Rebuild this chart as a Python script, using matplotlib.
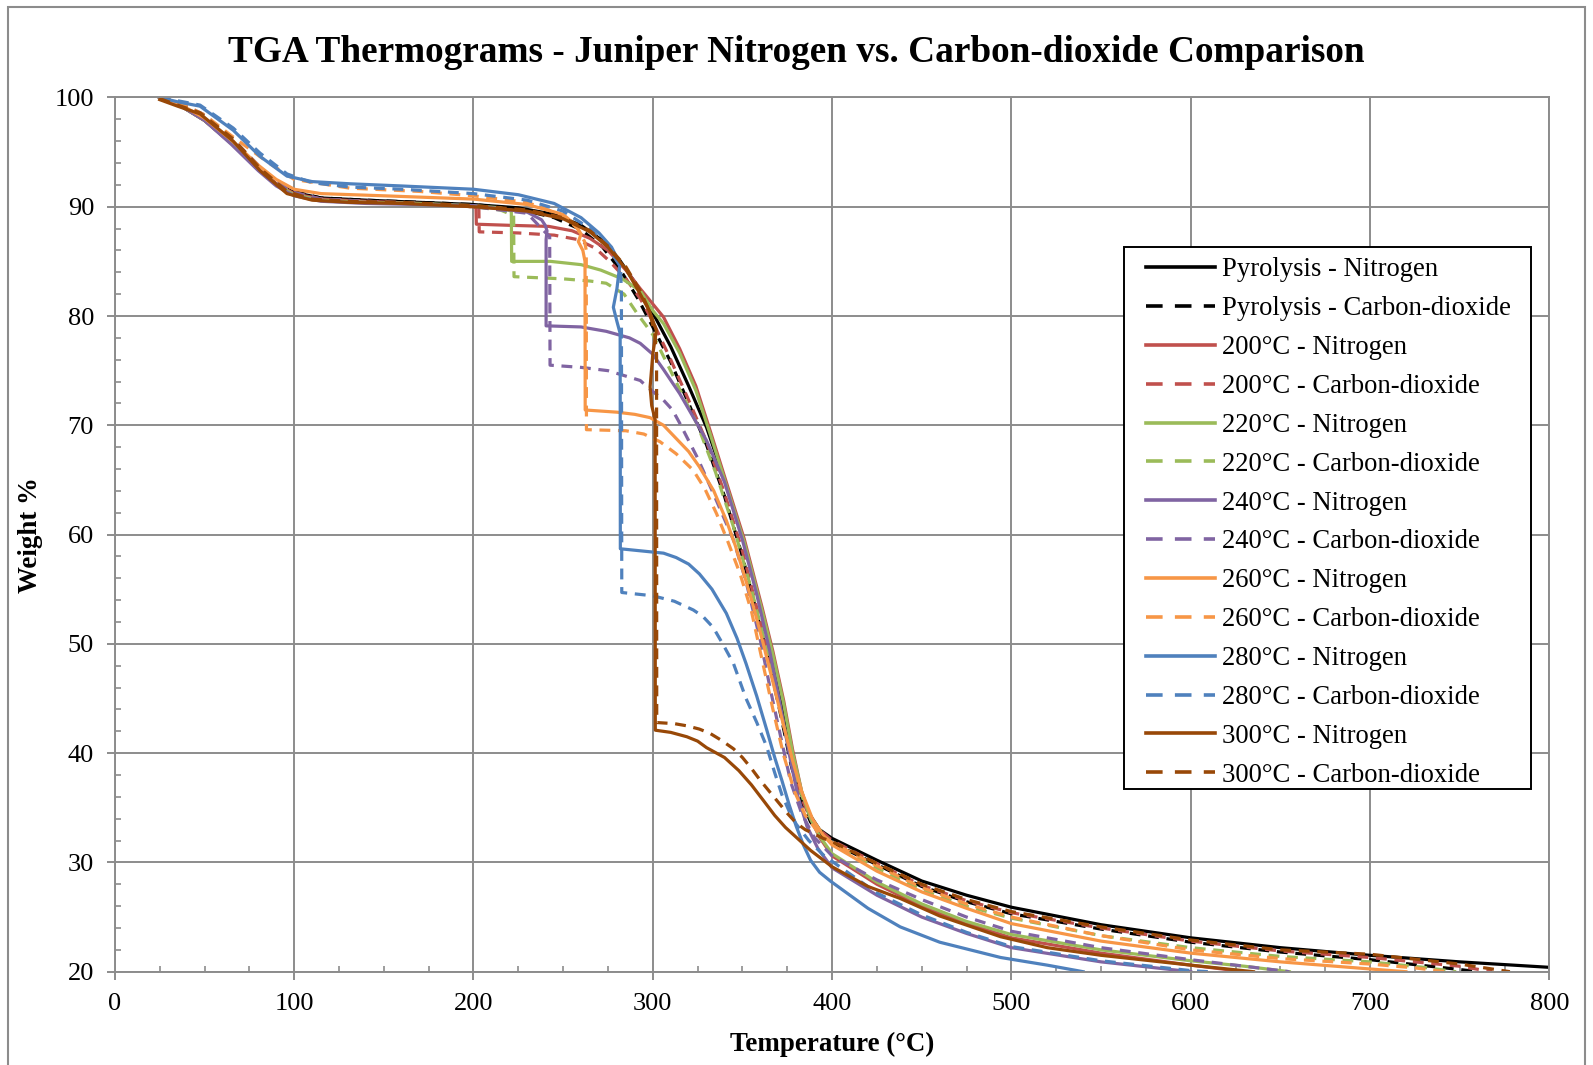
import matplotlib
matplotlib.use("Agg")
import matplotlib.pyplot as plt
from matplotlib.lines import Line2D
from matplotlib.patches import Rectangle
from matplotlib.ticker import MultipleLocator

# fonts: Times-like serif
plt.rcParams['font.family'] = ['Liberation Serif', 'DejaVu Serif']

# ---- data (temperature in C, weight %) ----
t_pyro_n2 = [25, 35, 50, 65, 80, 90, 100, 115, 140, 170, 200, 225, 245, 260, 272, 282, 292, 300, 310, 320, 330, 340,
             350, 360, 366, 372, 377, 382, 387, 393, 400, 425, 450, 475, 500, 550, 600, 650, 700, 750, 800]
w_pyro_n2 = [100, 99.4, 97.9, 95.8, 93.4, 92.1, 91.3, 90.8, 90.6, 90.4, 90.2, 89.9, 89.3, 88.3, 86.9, 85.0, 82.6, 80.3,
             77.2, 73.6, 69.8, 65.0, 59.8, 53.5, 49.5, 44.5, 40.0, 36.6, 34.5, 33.0, 32.2, 30.2, 28.3, 27.0, 25.9, 24.3,
             23.1, 22.2, 21.5, 20.9, 20.4]

t_pyro_co2 = [25, 35, 50, 65, 80, 90, 100, 115, 140, 170, 200, 225, 245, 260, 272, 282, 292, 300, 310, 320, 330, 340,
              350, 360, 366, 372, 377, 382, 388, 394, 400, 425, 450, 475, 500, 550, 600, 650, 700, 750, 760]
w_pyro_co2 = [100, 99.5, 98.1, 96.0, 93.6, 92.2, 91.4, 90.8, 90.6, 90.4, 90.2, 89.8, 89.0, 87.9, 86.3, 84.2, 81.5, 79.0,
              75.8, 72.0, 68.2, 63.5, 58.0, 51.5, 47.5, 43.0, 39.0, 36.0, 33.7, 32.5, 31.8, 29.8, 27.8, 26.4, 25.3, 23.9,
              22.7, 21.8, 21.1, 20.2, 20.0]

t_200_n2 = [25, 35, 50, 65, 80, 90, 100, 115, 140, 170, 200, 201.4, 201.6, 220, 242, 255, 265, 275, 285, 293, 300, 306,
            315, 324, 332, 341, 351, 361, 367, 373, 378, 383, 388, 393, 400, 425, 450, 475, 500, 550, 600, 630]
w_200_n2 = [100, 99.4, 97.9, 95.8, 93.4, 92.1, 91.2, 90.7, 90.5, 90.3, 90.0, 89.9, 88.4, 88.3, 88.2, 87.8, 87.1, 86.0,
            84.2, 82.5, 81.1, 79.9, 77.0, 73.6, 69.5, 64.8, 59.6, 53.3, 49.3, 44.8, 40.3, 36.5, 34.0, 32.3, 30.6, 28.0,
            26.0, 24.4, 23.1, 21.7, 20.6, 20.0]

t_200_co2 = [25, 35, 50, 65, 80, 90, 100, 115, 140, 170, 200, 203, 203.2, 225, 245, 258, 268, 276, 285, 293, 300, 310,
             320, 330, 340, 350, 360, 366, 372, 377, 382, 387, 393, 400, 425, 450, 475, 500, 550, 600, 650, 700, 750, 768]
w_200_co2 = [100, 99.5, 98.0, 95.9, 93.5, 92.2, 91.3, 90.7, 90.5, 90.3, 90.0, 89.9, 87.7, 87.6, 87.4, 87.0, 86.2, 85.0,
             83.4, 81.6, 79.5, 76.0, 72.3, 68.5, 63.8, 58.5, 52.0, 48.0, 43.5, 39.5, 36.3, 34.3, 33.0, 32.0, 29.9, 27.9,
             26.5, 25.4, 24.0, 22.8, 21.9, 21.3, 20.5, 20.0]

t_220_n2 = [25, 35, 50, 65, 80, 90, 100, 115, 140, 170, 200, 215, 221.1, 221.3, 243, 260, 271, 283, 293, 300, 306, 315,
            324, 332, 341, 351, 361, 367, 373, 378, 383, 388, 393, 400, 425, 450, 475, 500, 550, 600, 630, 655]
w_220_n2 = [100, 99.4, 97.9, 95.8, 93.4, 92.0, 91.1, 90.6, 90.4, 90.3, 90.1, 89.9, 89.6, 85.0, 85.0, 84.7, 84.2, 83.4,
            82.3, 80.5, 79.3, 76.6, 73.2, 69.2, 64.5, 59.3, 53.0, 49.0, 44.5, 40.0, 36.5, 34.0, 32.4, 30.8, 28.2, 26.2,
            24.6, 23.4, 22.0, 21.0, 20.5, 20.0]

t_220_co2 = [25, 35, 50, 65, 80, 90, 100, 115, 140, 170, 200, 215, 222.4, 222.6, 250, 265, 274, 284, 291, 300, 306, 315,
             325, 335, 345, 355, 362, 368, 374, 379, 384, 390, 396, 400, 425, 450, 475, 500, 550, 600, 650, 700, 730, 748]
w_220_co2 = [100, 99.5, 98.0, 95.9, 93.5, 92.1, 91.2, 90.6, 90.4, 90.3, 90.0, 89.7, 89.2, 83.6, 83.4, 83.2, 83.0, 82.0,
             80.3, 78.3, 76.3, 73.3, 70.0, 65.7, 60.7, 55.0, 50.5, 46.3, 41.8, 38.3, 35.7, 33.6, 32.4, 31.7, 29.5, 27.5,
             26.0, 24.9, 23.3, 22.2, 21.4, 20.9, 20.4, 20.0]

t_240_n2 = [25, 35, 50, 65, 80, 90, 100, 115, 140, 170, 200, 230, 238, 240, 241, 240.5, 240.5, 260, 274, 287, 293, 300,
            306, 315, 324.5, 330, 340, 350, 358, 365, 371, 376, 381, 386, 392, 400, 425, 450, 475, 500, 550, 600]
w_240_n2 = [100, 99.4, 97.9, 95.7, 93.3, 91.9, 91.0, 90.5, 90.3, 90.2, 90.1, 89.5, 88.8, 88.3, 87.8, 87.0, 79.1, 79.0,
            78.6, 78.0, 77.5, 76.5, 75.1, 72.9, 70.2, 68.6, 64.8, 59.5, 54.5, 49.5, 44.5, 40.0, 36.0, 33.3, 31.3, 29.5,
            27.0, 25.0, 23.5, 22.2, 20.9, 20.0]

t_240_co2 = [25, 35, 50, 65, 80, 90, 100, 115, 140, 170, 200, 230, 238, 241, 242.5, 242.7, 260, 275, 285, 293, 297, 306,
             311, 315, 325, 335, 345, 352, 360, 366, 372, 377, 383, 390, 400, 425, 450, 475, 500, 550, 600, 625, 655]
w_240_co2 = [100, 99.6, 98.4, 96.3, 93.8, 92.3, 91.3, 90.7, 90.5, 90.3, 90.0, 89.4, 88.0, 87.5, 87.3, 75.5, 75.3, 75.0,
             74.5, 74.1, 73.5, 72.3, 71.4, 70.2, 67.0, 63.3, 59.5, 55.7, 50.3, 45.5, 41.0, 37.3, 34.5, 32.3, 30.6, 28.4,
             26.6, 25.0, 23.7, 22.2, 21.1, 20.6, 20.0]

t_260_n2 = [25, 35, 50, 65, 80, 90, 100, 115, 150, 200, 230, 250, 257, 260, 258.5, 261, 262.2, 262.3, 280, 290, 298.5,
            306, 313, 320, 326, 334, 341, 346, 351, 356, 361, 367, 373, 378, 383, 389, 395, 400, 425, 450, 475, 500, 550,
            600, 650, 700, 720]
w_260_n2 = [100, 99.5, 98.1, 96.1, 93.8, 92.5, 91.6, 91.2, 91.0, 90.7, 90.2, 89.3, 88.3, 87.5, 86.8, 86.0, 85.0, 71.4,
            71.2, 71.0, 70.7, 70.0, 68.8, 67.6, 66.2, 64.0, 61.3, 59.0, 56.3, 53.5, 50.4, 46.5, 42.5, 39.3, 36.5, 34.0,
            32.5, 31.6, 29.2, 27.3, 25.8, 24.4, 22.8, 21.7, 20.9, 20.25, 20.0]

t_260_co2 = [25, 35, 50, 65, 85, 100, 131, 170, 200, 230, 250, 258, 262, 262.9, 263, 285, 295, 304, 313, 322.5, 329,
             335.6, 342, 348.7, 355, 361, 367, 373, 379, 385, 392, 400, 425, 450, 475, 500, 550, 600, 650, 700, 725, 742]
w_260_co2 = [100, 99.6, 98.4, 96.5, 94.1, 92.5, 91.7, 91.4, 91.0, 90.4, 89.2, 88.0, 86.8, 86.0, 69.6, 69.5, 69.2, 68.5,
             67.4, 65.9, 64.2, 61.9, 59.3, 56.4, 53.0, 48.5, 44.0, 39.8, 36.5, 34.3, 32.8, 31.8, 29.7, 27.7, 26.2, 25.0,
             23.3, 22.0, 21.2, 20.7, 20.35, 20.0]

t_280_n2 = [25, 35, 47.5, 66, 81, 96, 110, 131, 160, 200, 225, 245, 260, 270, 277, 281.7, 280, 278, 280, 281.8, 281.9,
            300, 306, 313, 320, 326, 333, 341, 347, 352, 358, 363.6, 368, 372, 376, 380, 384, 388, 393, 399, 420, 438,
            460, 494, 520, 540]
w_280_n2 = [100, 99.6, 99.2, 97.0, 94.6, 92.8, 92.3, 92.1, 91.9, 91.6, 91.1, 90.3, 89.0, 87.6, 86.3, 84.8, 82.5, 80.8,
            79.5, 78.4, 58.7, 58.4, 58.3, 57.9, 57.3, 56.4, 55.0, 52.8, 50.5, 48.2, 45.2, 42.1, 39.6, 37.5, 35.3, 33.3,
            31.6, 30.2, 29.1, 28.3, 25.8, 24.1, 22.7, 21.3, 20.6, 20.0]

t_280_co2 = [25, 35, 47.5, 66, 81, 96, 110, 131, 160, 200, 230, 250, 265, 275, 282, 282.5, 282.7, 300, 312, 322.6, 328,
             333.7, 339, 345, 352, 358, 363.5, 368, 372, 376, 380, 387, 395, 400, 425, 450, 475, 500, 550, 600, 610]
w_280_co2 = [100, 99.7, 99.3, 97.2, 94.9, 93.0, 92.2, 91.8, 91.6, 91.2, 90.6, 89.6, 88.0, 86.3, 84.5, 82.0, 54.7, 54.4,
             53.9, 53.1, 52.5, 51.5, 50.0, 48.2, 45.0, 42.8, 40.6, 38.2, 36.2, 34.7, 33.5, 32.0, 30.7, 30.1, 27.2, 25.2,
             23.6, 22.3, 21.0, 20.1, 20.0]

t_300_n2 = [25, 35, 47.5, 66, 81, 96, 110, 131, 160, 200, 230, 250, 265, 275, 285, 293, 298, 302, 300, 298.5, 299.4,
            301.3, 301.4, 310, 319, 325, 330, 340, 348, 355, 362, 368, 374, 380, 388, 400, 420, 438, 460, 494, 520, 550,
            600, 635]
w_300_n2 = [99.8, 99.2, 98.5, 96.0, 93.3, 91.2, 90.6, 90.4, 90.3, 90.0, 89.6, 88.9, 87.7, 86.3, 84.3, 82.0, 80.5, 78.7,
            76.5, 73.5, 71.8, 70.5, 42.1, 41.9, 41.5, 41.1, 40.5, 39.6, 38.4, 37.1, 35.6, 34.3, 33.2, 32.3, 31.1, 29.6,
            27.8, 26.7, 25.1, 23.2, 22.2, 21.5, 20.6, 20.0]

t_300_co2 = [25, 35, 47.5, 66, 81, 96, 110, 131, 160, 200, 230, 250, 265, 275, 285, 293, 298, 301, 302.1, 302.2, 312,
             319, 326, 332, 338, 345, 350, 355, 360, 365, 370, 375, 380, 385, 390, 395, 400, 425, 450, 475, 500, 550, 600,
             650, 700, 750, 778]
w_300_co2 = [99.9, 99.3, 98.6, 96.2, 93.5, 91.4, 90.7, 90.5, 90.4, 90.1, 89.7, 89.0, 87.8, 86.4, 84.5, 82.3, 80.5, 78.5,
             76.5, 42.8, 42.7, 42.5, 42.2, 41.8, 41.2, 40.4, 39.6, 38.6, 37.5, 36.5, 35.5, 34.5, 33.6, 33.0, 32.6, 32.2,
             31.9, 29.9, 28.0, 26.6, 25.5, 24.1, 22.9, 22.0, 21.6, 20.7, 20.0]

# series order as in the legend
series = [
    ("Pyrolysis - Nitrogen", t_pyro_n2, w_pyro_n2, "#000000", "-"),
    ("Pyrolysis - Carbon-dioxide", t_pyro_co2, w_pyro_co2, "#000000", "--"),
    ("200°C - Nitrogen", t_200_n2, w_200_n2, "#C0504D", "-"),
    ("200°C - Carbon-dioxide", t_200_co2, w_200_co2, "#C0504D", "--"),
    ("220°C - Nitrogen", t_220_n2, w_220_n2, "#9BBB59", "-"),
    ("220°C - Carbon-dioxide", t_220_co2, w_220_co2, "#9BBB59", "--"),
    ("240°C - Nitrogen", t_240_n2, w_240_n2, "#8064A2", "-"),
    ("240°C - Carbon-dioxide", t_240_co2, w_240_co2, "#8064A2", "--"),
    ("260°C - Nitrogen", t_260_n2, w_260_n2, "#F79646", "-"),
    ("260°C - Carbon-dioxide", t_260_co2, w_260_co2, "#F79646", "--"),
    ("280°C - Nitrogen", t_280_n2, w_280_n2, "#4F81BD", "-"),
    ("280°C - Carbon-dioxide", t_280_co2, w_280_co2, "#4F81BD", "--"),
    ("300°C - Nitrogen", t_300_n2, w_300_n2, "#984807", "-"),
    ("300°C - Carbon-dioxide", t_300_co2, w_300_co2, "#984807", "--"),
]

grey = "#8c8c8c"

fig = plt.figure(figsize=(15.93, 10.65), dpi=100)
ax = fig.add_axes([0.0721, 0.0876, 0.9005, 0.8209])

handles = []
for label, t, w, color, ls in series:
    if ls == "--":
        ax.plot(t, w, color=color, lw=2.3, dashes=(3.4, 2.4), solid_joinstyle='round', dash_joinstyle='round')
        handles.append(Line2D([], [], color=color, lw=2.6, dashes=(4.6, 3.4)))
    else:
        ax.plot(t, w, color=color, lw=2.3, solid_joinstyle='round')
        handles.append(Line2D([], [], color=color, lw=2.6))

ax.set_xlim(0, 800)
ax.set_ylim(20, 100)
ax.xaxis.set_major_locator(MultipleLocator(100))
ax.xaxis.set_minor_locator(MultipleLocator(25))
ax.yaxis.set_major_locator(MultipleLocator(10))
ax.yaxis.set_minor_locator(MultipleLocator(2))
ax.grid(True, which='major', color=grey, lw=1.4)
ax.set_axisbelow(True)
for s in ax.spines.values():
    s.set_color(grey)
    s.set_linewidth(1.4)
ax.tick_params(which='major', direction='out', length=6, width=1.4, color=grey, labelsize=19, pad=9)
ax.tick_params(which='minor', direction='in', length=4, width=1.2, color=grey)

ax.set_xlabel("Temperature (°C)", fontsize=19.4, fontweight='bold')
ax.set_ylabel("Weight %", fontsize=19.4, fontweight='bold')
ax.xaxis.set_label_coords(0.5, -0.069)
ax.yaxis.set_label_coords(-0.050, 0.5)

fig.text(0.5, 0.951, "TGA Thermograms - Juniper Nitrogen vs. Carbon-dioxide Comparison",
         ha='center', va='center', fontsize=26.8, fontweight='bold')

# legend entries without frame; the box is drawn separately so its padding matches the original
leg = ax.legend(handles, [s[0] for s in series], loc='upper left', bbox_to_anchor=(0.7194, 0.7583),
                bbox_transform=fig.transFigure, borderaxespad=0, borderpad=0, fontsize=19.2,
                handlelength=2.6, handletextpad=0.25, labelspacing=0.52, frameon=False)
leg.set_zorder(6)
ax.add_patch(Rectangle((0.7056, 0.2592), 0.2555, 0.5089, transform=fig.transFigure, clip_on=False,
                       facecolor='white', edgecolor='black', lw=1.4, zorder=5))

# grey border round the whole chart
fig.patches.append(Rectangle((0.005, -0.01), 0.99, 1.0035, transform=fig.transFigure,
                             fill=False, ec=grey, lw=1.5))

plt.savefig("out.png", dpi=100)
